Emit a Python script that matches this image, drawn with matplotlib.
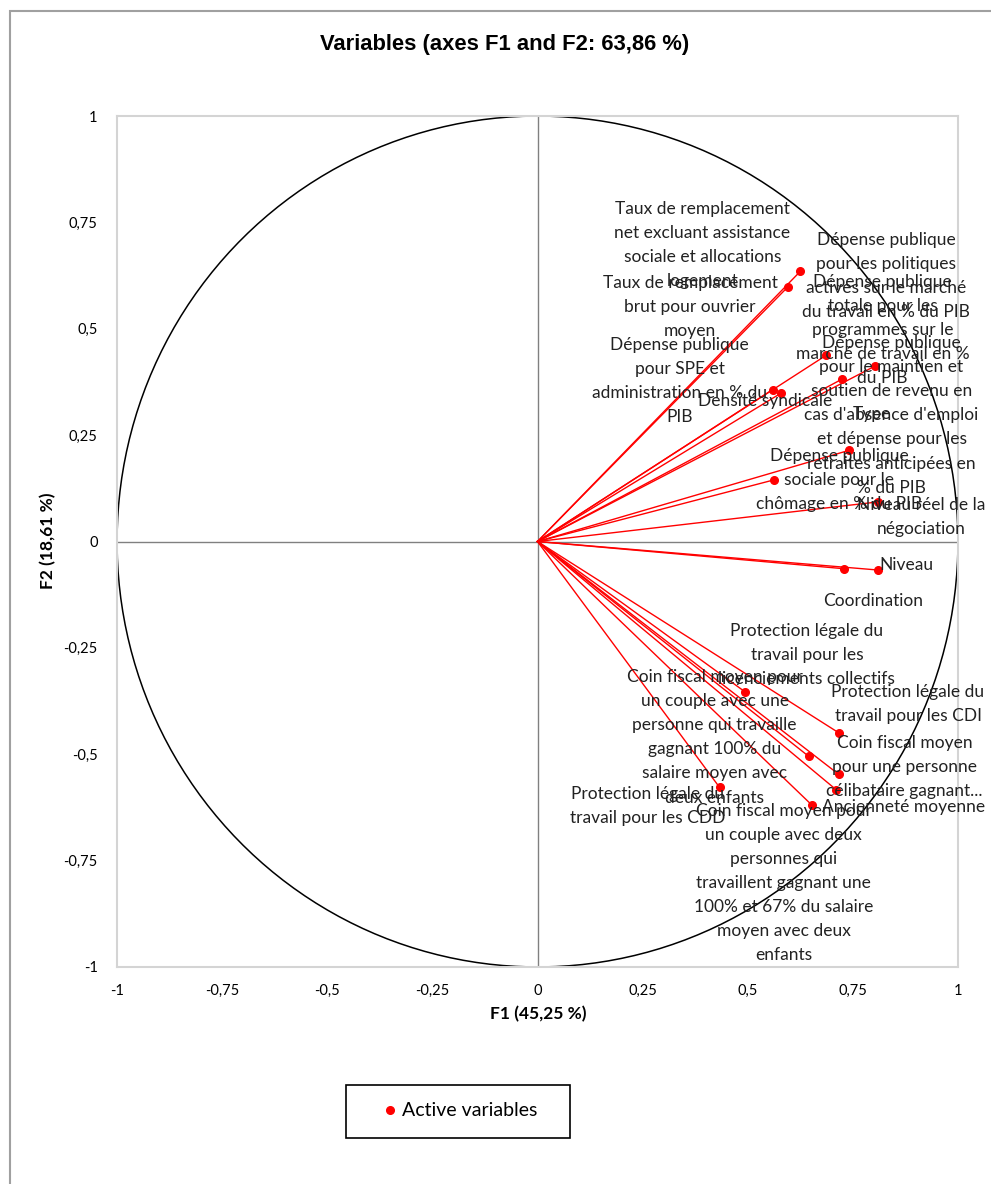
import matplotlib.pyplot as plt
import matplotlib.patches as mpatches
import numpy as np

# variable coordinates on F1 / F2
labels = [
    "Taux de remplacement\nnet excluant assistance\nsociale et allocations\nlogement",
    "Taux de remplacement\nbrut pour ouvrier\nmoyen",
    "Dépense publique\npour SPE et\nadministration en % du\nPIB",
    "Densité syndicale",
    "Dépense publique\npour les politiques\nactives sur le marché\ndu travail en % du PIB",
    "Dépense publique\ntotale pour les\nprogrammes sur le\nmarché de travail en %\ndu PIB",
    "Dépense publique\npour le maintien et\nsoutien de revenu en\ncas d'absence d'emploi\net dépense pour les\nretraites anticipées en\n% du PIB",
    "Type",
    "Dépense publique\nsociale pour le\nchômage en % du PIB",
    "Niveau réel de la\nnégociation",
    "Niveau",
    "Coordination",
    "Protection légale du\ntravail pour les\nlicenciements collectifs",
    "Protection légale du\ntravail pour les CDI",
    "Coin fiscal moyen pour\nun couple avec une\npersonne qui travaille\ngagnant 100% du\nsalaire moyen avec\ndeux enfants",
    "Coin fiscal moyen\npour une personne\ncélibataire gagnant...",
    "Ancienneté moyenne",
    "Coin fiscal moyen pour\nun couple avec deux\npersonnes qui\ntravaillent gagnant une\n100% et 67% du salaire\nmoyen avec deux\nenfants",
    "Protection légale du\ntravail pour les CDD",
]
f1 = [0.625, 0.596, 0.559, 0.578, 0.687, 0.802, 0.723, 0.740, 0.563, 0.809,
      0.809, 0.729, 0.493, 0.717, 0.645, 0.716, 0.711, 0.652, 0.433]
f2 = [0.635, 0.599, 0.357, 0.348, 0.438, 0.412, 0.381, 0.214, 0.145, 0.093,
      -0.067, -0.064, -0.353, -0.450, -0.505, -0.547, -0.584, -0.619, -0.578]

# label placement (pixel offsets from each point)
lab_dx = [-98, -98, -93, -15, 60, 8, 50, 23, 65, 43, 29, 29, 62, 69, -94, 66, 67, -28, -72]
lab_dy = [26, -20, 9, -8, 79, 36, -36, 36, 0, -15, 5, -32, 37, 29, 19, 7, -17, -78, -19]

ticks = [-1, -0.75, -0.5, -0.25, 0, 0.25, 0.5, 0.75, 1]
tick_text = ["-1", "-0,75", "-0,5", "-0,25", "0", "0,25", "0,5", "0,75", "1"]

fig = plt.figure(figsize=(9.91, 11.84), dpi=100)
ax = fig.add_axes([0.1181, 0.1833, 0.8486, 0.7187])

# outer frame of the figure
fig.patches.append(mpatches.Rectangle((0.0105, -0.05), 1.2, 1.0407, transform=fig.transFigure,
                                      fill=False, edgecolor="#a0a0a0", linewidth=1.5))

t = np.linspace(0, 2 * np.pi, 400)
ax.plot(np.cos(t), np.sin(t), color="black", linewidth=1.1, zorder=2)
ax.axhline(0, color="#808080", linewidth=1, zorder=1)
ax.axvline(0, color="#808080", linewidth=1, zorder=1)

for x, y in zip(f1, f2):
    ax.plot([0, x], [0, y], color="red", linewidth=1, zorder=3)
ax.plot(f1, f2, "o", color="red", markersize=5.5, zorder=4, linestyle="none")

for lab, x, y, dx, dy in zip(labels, f1, f2, lab_dx, lab_dy):
    ax.annotate(lab, (x, y), xytext=(dx, dy), textcoords="offset pixels",
                ha="center", va="center", multialignment="center",
                fontsize=12.5, family="Lato", color="#222222", linespacing=1.62, zorder=5)

ax.set_xlim(-1, 1)
ax.set_ylim(-1, 1)
ax.set_xticks(ticks)
ax.set_xticklabels(tick_text, family="Lato", fontsize=10.5)
ax.set_yticks(ticks)
ax.set_yticklabels(tick_text, family="Lato", fontsize=10.5)
ax.tick_params(axis="x", length=0, pad=12)
ax.tick_params(axis="y", length=0, pad=14)
for s in ax.spines.values():
    s.set_color("#d4d4d4")
    s.set_linewidth(1.5)

fig.text(0.5096, 0.9628, "Variables (axes F1 and F2: 63,86 %)", ha="center", va="center",
         fontsize=15.8, fontweight="bold", family="Liberation Sans")
fig.text(538 / 991, 1 - 1014 / 1184, "F1 (45,25 %)", ha="center", va="center",
         fontsize=12.5, fontweight="bold", family="Lato")
fig.text(48 / 991, 1 - 541 / 1184, "F2 (18,61 %)", ha="center", va="center", rotation=90,
         fontsize=12.5, fontweight="bold", family="Lato")

# legend: box drawn separately so it matches the original's proportions
fig.patches.append(mpatches.Rectangle((346 / 991, 1 - 1138 / 1184), 224 / 991, 53 / 1184,
                                      transform=fig.transFigure, fill=False,
                                      edgecolor="black", linewidth=1.2))
h = plt.Line2D([], [], marker="o", color="red", linestyle="none", markersize=5.5)
fig.legend([h], ["Active variables"], loc="center left",
           bbox_to_anchor=(380.3 / 991, 1 - 1111 / 1184), frameon=False,
           borderpad=0, handlelength=1.0, handletextpad=0.12, borderaxespad=0,
           prop={"family": "Lato", "size": 14})

fig.savefig("out.png", dpi=100)
